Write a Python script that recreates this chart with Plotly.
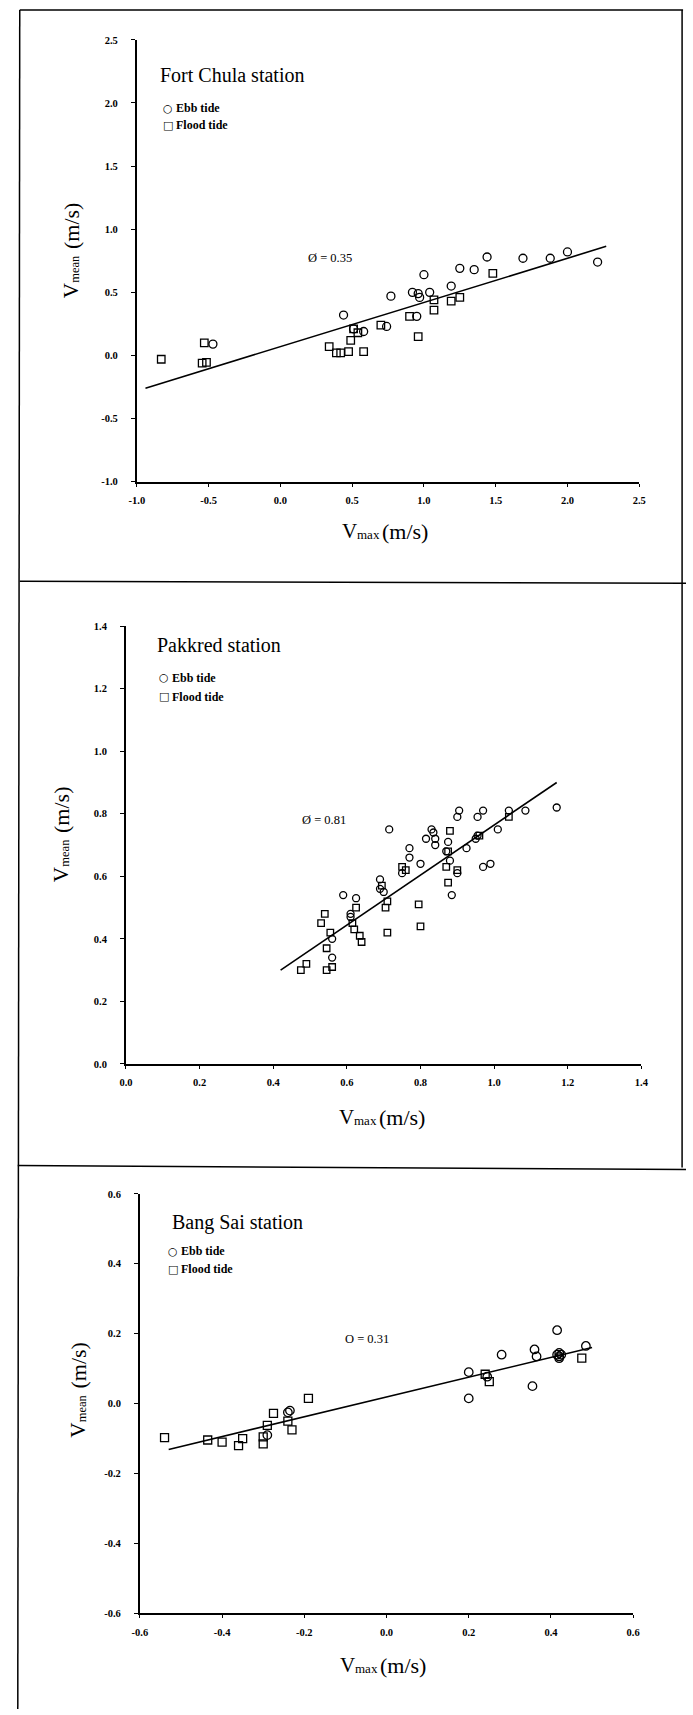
import plotly.graph_objects as go

# ---------------- data ----------------
# Fort Chula station
fc_ebb_x = [-0.47, 0.44, 0.51, 0.58, 0.74, 0.77, 0.92, 0.96, 0.97, 0.95, 1.00, 1.04, 1.19, 1.25, 1.35, 1.44, 1.69, 1.88, 2.00, 2.21]
fc_ebb_y = [0.09, 0.32, 0.21, 0.19, 0.23, 0.47, 0.50, 0.49, 0.46, 0.31, 0.64, 0.50, 0.55, 0.69, 0.68, 0.78, 0.77, 0.77, 0.82, 0.74]
fc_flood_x = [-0.83, -0.53, -0.545, -0.515, 0.34, 0.39, 0.42, 0.475, 0.49, 0.51, 0.54, 0.58, 0.70, 0.90, 0.96, 1.07, 1.07, 1.19, 1.25, 1.48]
fc_flood_y = [-0.03, 0.10, -0.06, -0.055, 0.07, 0.02, 0.02, 0.03, 0.12, 0.21, 0.18, 0.03, 0.24, 0.31, 0.15, 0.44, 0.36, 0.43, 0.46, 0.65]
fc_fit = dict(slope=0.35, intercept=0.07, x=[-0.94, 2.27])

# Pakkred station
pk_ebb_x = [0.715, 0.59, 0.625, 0.61, 0.61, 0.56, 0.56, 0.69, 0.69, 0.70, 0.77, 0.77, 0.75, 0.80, 0.815, 0.83, 0.835,
            0.84, 0.84, 0.87, 0.875, 0.88, 0.885, 0.90, 0.905, 0.90, 0.925, 0.95, 0.955, 0.955, 0.97, 0.97, 0.99,
            1.01, 1.04, 1.085, 1.17]
pk_ebb_y = [0.75, 0.54, 0.53, 0.48, 0.47, 0.40, 0.34, 0.59, 0.56, 0.55, 0.69, 0.66, 0.61, 0.64, 0.72, 0.75, 0.74,
            0.72, 0.70, 0.68, 0.71, 0.65, 0.54, 0.61, 0.81, 0.79, 0.69, 0.72, 0.73, 0.79, 0.81, 0.63, 0.64,
            0.75, 0.81, 0.81, 0.82]
pk_flood_x = [0.475, 0.49, 0.54, 0.53, 0.555, 0.545, 0.545, 0.56, 0.625, 0.615, 0.62, 0.635, 0.64, 0.695, 0.71,
              0.705, 0.71, 0.75, 0.76, 0.795, 0.80, 0.88, 0.875, 0.87, 0.875, 0.90, 0.96, 1.04]
pk_flood_y = [0.30, 0.32, 0.48, 0.45, 0.42, 0.37, 0.30, 0.31, 0.50, 0.45, 0.43, 0.41, 0.39, 0.57, 0.52,
              0.50, 0.42, 0.63, 0.62, 0.51, 0.44, 0.745, 0.68, 0.63, 0.58, 0.62, 0.73, 0.79]
pk_fit = dict(slope=0.80, intercept=-0.036, x=[0.42, 1.17])

# Bang Sai station
bs_ebb_x = [-0.24, -0.235, -0.29, 0.20, 0.20, 0.245, 0.28, 0.355, 0.36, 0.365, 0.415, 0.415, 0.42, 0.42, 0.425, 0.42, 0.485]
bs_ebb_y = [-0.025, -0.02, -0.09, 0.09, 0.015, 0.077, 0.14, 0.05, 0.155, 0.135, 0.21, 0.14, 0.145, 0.135, 0.14, 0.13, 0.165]
bs_flood_x = [-0.54, -0.435, -0.40, -0.36, -0.35, -0.30, -0.30, -0.29, -0.275, -0.24, -0.23, -0.19, 0.24, 0.25, 0.475]
bs_flood_y = [-0.097, -0.104, -0.11, -0.12, -0.10, -0.095, -0.115, -0.062, -0.028, -0.05, -0.075, 0.015, 0.084, 0.063, 0.13]
bs_fit = dict(slope=0.283, intercept=0.019, x=[-0.53, 0.50])

titles = ["Fort Chula station", "Pakkred station", "Bang Sai station"]
phi_labels = ["\u00d8 = 0.35", "\u00d8 = 0.81", "O = 0.31"]
legend_labels = ["Ebb tide", "Flood tide"]
legend_glyphs = ["\u25cb", "\u25a1"]
fc_ticks = [-1.0, -0.5, 0.0, 0.5, 1.0, 1.5, 2.0, 2.5]
pk_ticks = [0.0, 0.2, 0.4, 0.6, 0.8, 1.0, 1.2, 1.4]
bs_ticks = [-0.6, -0.4, -0.2, 0.0, 0.2, 0.4, 0.6]

# ---------------- layout helpers ----------------
W, H = 693, 1715
SERIF = "Liberation Serif, Times New Roman, serif"


def px_x(p):
    return p / W


def px_y(p):
    return 1 - p / H


def lbl(v):
    return f"{v:.1f}"


panels = [
    dict(ebb=(fc_ebb_x, fc_ebb_y), flood=(fc_flood_x, fc_flood_y), fit=fc_fit, ticks=fc_ticks,
         xd=(131.7, 645.2), yd=(35.1, 479.8), msize=8,
         title=(155, 70), glyph_x=163.5, leg_x=171.5, leg_y=(104, 121), phi=(307, 255),
         ylab=(64.5, 295.5), xlab=(387.5, 529)),
    dict(ebb=(pk_ebb_x, pk_ebb_y), flood=(pk_flood_x, pk_flood_y), fit=pk_fit, ticks=pk_ticks,
         xd=(120.6, 647.4), yd=(625.1, 1065.8), msize=7,
         title=(152.5, 644), glyph_x=159.5, leg_x=168, leg_y=(677, 696), phi=(301, 820),
         ylab=(53.5, 883), xlab=(384.5, 1119)),
    dict(ebb=(bs_ebb_x, bs_ebb_y), flood=(bs_flood_x, bs_flood_y), fit=bs_fit, ticks=bs_ticks,
         xd=(134.8, 639.0), yd=(1196.5, 1618.8), msize=8.5,
         title=(167.5, 1225), glyph_x=168.5, leg_x=177, leg_y=(1254.5, 1272.5), phi=(344, 1343),
         ylab=(72, 1442), xlab=(385.6, 1670.5)),
]

fig = go.Figure()
annotations = []
layout_axes = {}


def ann(text, x, y, size, xanchor="left", yanchor="middle", angle=0, family=SERIF, weight="normal"):
    annotations.append(dict(text=text, x=px_x(x), y=px_y(y), xref="paper", yref="paper",
                            xanchor=xanchor, yanchor=yanchor, textangle=angle, showarrow=False,
                            borderpad=0, borderwidth=0,
                            font=dict(family=family, size=size, color="black", weight=weight)))


for i, p in enumerate(panels):
    n = "" if i == 0 else str(i + 1)
    xa, ya = "x" + n, "y" + n
    fit = p["fit"]
    fx = fit["x"]
    fy = [fit["slope"] * v + fit["intercept"] for v in fx]
    fig.add_trace(go.Scatter(x=fx, y=fy, mode="lines", line=dict(color="black", width=1.6),
                             xaxis=xa, yaxis=ya, showlegend=False, hoverinfo="skip"))
    fig.add_trace(go.Scatter(x=p["ebb"][0], y=p["ebb"][1], mode="markers", name="Ebb tide",
                             marker=dict(symbol="circle-open", size=p["msize"], color="black",
                                         line=dict(width=1.3, color="black")),
                             xaxis=xa, yaxis=ya, showlegend=False))
    fig.add_trace(go.Scatter(x=p["flood"][0], y=p["flood"][1], mode="markers", name="Flood tide",
                             marker=dict(symbol="square-open", size=p["msize"] - 0.5, color="black",
                                         line=dict(width=1.3, color="black")),
                             xaxis=xa, yaxis=ya, showlegend=False))

    ticks = p["ticks"]
    tickfont = dict(family=SERIF, size=10.5, color="black", weight="bold")
    layout_axes["xaxis" + n] = dict(
        domain=[px_x(p["xd"][0]), px_x(p["xd"][1])], range=[ticks[0], ticks[-1]],
        tickvals=ticks, ticktext=[lbl(t) for t in ticks], anchor=ya,
        showline=True, linecolor="black", linewidth=1.8, ticks="outside", ticklen=3,
        tickcolor="black", tickwidth=1.2, showgrid=False, zeroline=False,
        tickfont=tickfont, ticklabelstandoff=5)
    layout_axes["yaxis" + n] = dict(
        domain=[px_y(p["yd"][1]), px_y(p["yd"][0])], range=[ticks[0], ticks[-1]],
        tickvals=ticks, ticktext=[lbl(t) for t in ticks], anchor=xa,
        showline=True, linecolor="black", linewidth=1.8, ticks="outside", ticklen=4,
        tickcolor="black", tickwidth=1.2, showgrid=False, zeroline=False,
        tickfont=tickfont, ticklabelstandoff=11)

    # station title, legend and coefficient label
    ann(titles[i], p["title"][0], p["title"][1], 20)
    for k in range(2):
        ann(legend_glyphs[k], p["glyph_x"], p["leg_y"][k], 11, xanchor="center",
            family="DejaVu Sans, sans-serif")
        ann(legend_labels[k], p["leg_x"], p["leg_y"][k], 12, weight="bold")
    ann(phi_labels[i], p["phi"][0], p["phi"][1], 12.5)

    # x axis title: V + subscript "max" + (m/s)
    cx, cy = p["xlab"]
    ann("V", cx - 46, cy, 21)
    ann("max", cx - 30.5, cy + 4, 13)
    ann("(m/s)", cx - 5.5, cy + 0.5, 22)

    # y axis title (rotated): V + subscript "mean" + (m/s)
    vx, vb = p["ylab"]
    ann("V", vx, vb, 21, xanchor="center", yanchor="bottom", angle=-90)
    ann("mean", vx + 4.5, vb - 15.5, 12.5, xanchor="center", yanchor="bottom", angle=-90)
    ann("(m/s)", vx + 0.5, vb - 49.5, 22, xanchor="center", yanchor="bottom", angle=-90)

# panel frame lines (scanned page borders)
border = [
    ((12, 5), (690, 5)),
    ((12, 5), (10, 1715)),
    ((689, 5), (689, 1170)),
    ((12, 580), (693, 582)),
    ((10, 1168), (693, 1172)),
]
shapes = [dict(type="line", xref="paper", yref="paper", x0=px_x(a[0]), y0=px_y(a[1]),
               x1=px_x(b[0]), y1=px_y(b[1]), line=dict(color="black", width=1.5)) for a, b in border]

fig.update_layout(width=W, height=H, margin=dict(l=0, r=0, t=0, b=0),
                  paper_bgcolor="white", plot_bgcolor="white", showlegend=False,
                  annotations=annotations, shapes=shapes, **layout_axes)

fig.write_html("out.html", config={"displayModeBar": False},
               post_script="document.body.style.margin='0';")
